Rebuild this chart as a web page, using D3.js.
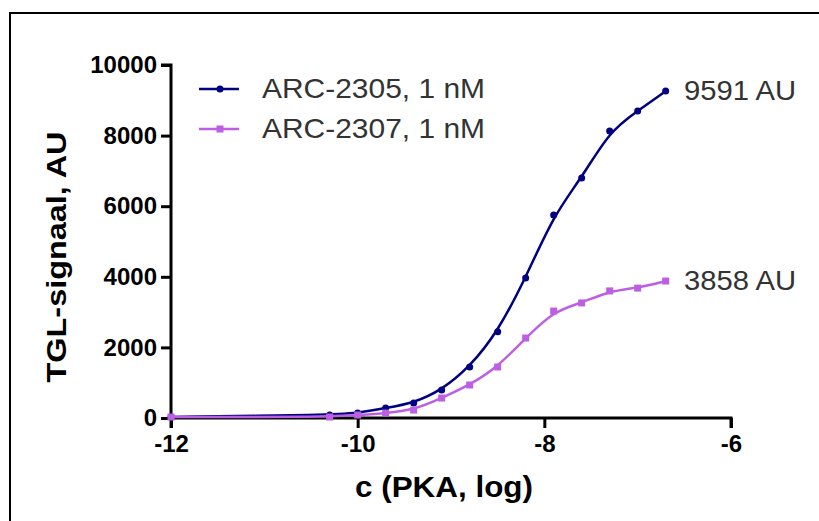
<!DOCTYPE html>
<html>
<head>
<meta charset="utf-8">
<script src="https://cdn.jsdelivr.net/npm/d3@7"></script>
<style>
  body { margin: 0; background: #fff; }
  svg { display: block; font-family: "Liberation Sans", Arial, sans-serif; }
</style>
</head>
<body>
<svg width="819" height="521"></svg>
<script>
// data (log concentration, signal AU)
const logConc = [-12, -10.3, -10.0, -9.7, -9.4, -9.1, -8.8, -8.5, -8.2, -7.9, -7.6, -7.3, -7.0, -6.7];
const arc2305 = [30, 85, 140, 280, 425, 790, 1445, 2440, 3965, 5750, 6800, 8130, 8700, 9260];
const arc2307 = [28, 28, 85, 140, 225, 565, 935, 1445, 2265, 3030, 3260, 3600, 3680, 3880];
const seriesNames = ["ARC-2305, 1 nM", "ARC-2307, 1 nM"];
const endLabels = ["9591 AU", "3858 AU"];
const xTicks = [-12, -10, -8, -6];
const yTicks = [0, 2000, 4000, 6000, 8000, 10000];

const svg = d3.select('svg');
const width = +svg.attr('width');
const height = +svg.attr('height');

// frame around the figure (runs off right/bottom)
svg.append('rect')
    .attr('x', 10).attr('y', 13)
    .attr('width', width + 20).attr('height', height + 20)
    .attr('fill', 'none')
    .attr('stroke', '#000')
    .attr('stroke-width', 2);

const xScale = d3.scaleLinear().domain([-12, -6]).range([171, 731]);
const yScale = d3.scaleLinear().domain([0, 10000]).range([418, 65]);

// axes
const xAxis = svg.append('g')
    .attr('transform', `translate(0,${yScale(0)})`)
    .call(d3.axisBottom(xScale).tickValues(xTicks).tickSize(10).tickPadding(5).tickFormat(d => String(d)));
const yAxis = svg.append('g')
    .attr('transform', `translate(${xScale(-12)},0)`)
    .call(d3.axisLeft(yScale).tickValues(yTicks).tickSize(10).tickPadding(4).tickFormat(d => String(d)));

[xAxis, yAxis].forEach(g => {
    g.select('.domain').attr('stroke', '#000').attr('stroke-width', 3);
    g.selectAll('.tick line').attr('stroke', '#000').attr('stroke-width', 3);
    g.selectAll('.tick text')
        .attr('fill', '#000')
        .style('font-size', '24px')
        .style('font-weight', 'bold')
        .style('font-family', '"Liberation Sans", Arial, sans-serif');
});
xAxis.selectAll('.tick text').attr('dy', '0.8em');
xAxis.select('.domain').attr('d', `M${xScale(-12)},10V0H${xScale(-6)}V10`);
yAxis.select('.domain').attr('d', `M-10,${yScale(10000)}H0V${yScale(0)}`);

// axis titles
svg.append('text')
    .attr('x', 444).attr('y', 497)
    .attr('text-anchor', 'middle')
    .attr('textLength', 178).attr('lengthAdjust', 'spacingAndGlyphs')
    .style('font-size', '29px').style('font-weight', 'bold')
    .text('c (PKA, log)');
svg.append('text')
    .attr('transform', 'translate(66,257) rotate(-90)')
    .attr('text-anchor', 'middle')
    .attr('textLength', 251).attr('lengthAdjust', 'spacingAndGlyphs')
    .style('font-size', '28px').style('font-weight', 'bold')
    .text('TGL-signaal, AU');

const colors = ['#000080', '#bd5fe3'];
const allSeries = [arc2305, arc2307];

const line = d3.line()
    .x((d, i) => xScale(logConc[i]))
    .y(d => yScale(d))
    .curve(d3.curveBasis);

allSeries.forEach((vals, s) => {
    const g = svg.append('g');
    g.append('path')
        .datum(vals)
        .attr('d', line)
        .attr('fill', 'none')
        .attr('stroke', colors[s])
        .attr('stroke-width', 2.5);
    if (s === 0) {
        g.selectAll('circle')
            .data(vals)
            .enter()
            .append('circle')
            .attr('cx', (d, i) => xScale(logConc[i]))
            .attr('cy', d => yScale(d))
            .attr('r', 3.5)
            .attr('fill', colors[s]);
    } else {
        g.selectAll('rect')
            .data(vals)
            .enter()
            .append('rect')
            .attr('x', (d, i) => xScale(logConc[i]) - 3.5)
            .attr('y', d => yScale(d) - 3.5)
            .attr('width', 7)
            .attr('height', 7)
            .attr('fill', colors[s]);
    }
    // end label
    svg.append('text')
        .attr('x', 684)
        .attr('y', yScale(vals[vals.length - 1]) + 9)
        .attr('fill', '#333')
        .attr('textLength', 112).attr('lengthAdjust', 'spacingAndGlyphs')
        .style('font-size', '28px')
        .text(endLabels[s]);
});

// legend
seriesNames.forEach((name, s) => {
    const ly = 89 + s * 40;
    svg.append('line')
        .attr('x1', 199).attr('x2', 239)
        .attr('y1', ly).attr('y2', ly)
        .attr('stroke', colors[s]).attr('stroke-width', 2.5);
    if (s === 0) {
        svg.append('circle').attr('cx', 220).attr('cy', ly).attr('r', 3.5).attr('fill', colors[s]);
    } else {
        svg.append('rect').attr('x', 216.5).attr('y', ly - 3.5).attr('width', 7).attr('height', 7).attr('fill', colors[s]);
    }
    svg.append('text')
        .attr('x', 262).attr('y', ly + 9)
        .attr('fill', '#333')
        .attr('textLength', 223).attr('lengthAdjust', 'spacingAndGlyphs')
        .style('font-size', '28px')
        .text(name);
});
</script>
</body>
</html>
